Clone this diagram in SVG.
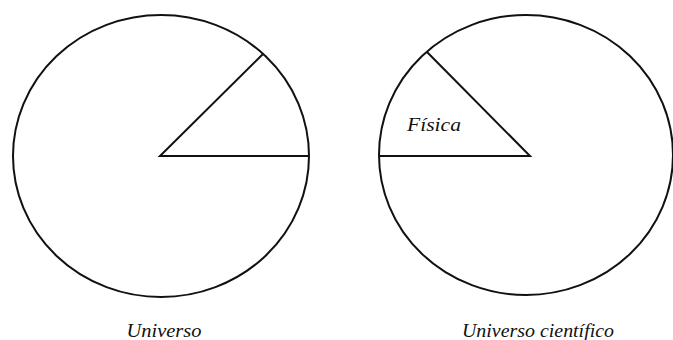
<svg xmlns="http://www.w3.org/2000/svg" width="673" height="340" viewBox="0 0 673 340">
<style>
.ln{fill:none;stroke:#111;stroke-width:2;stroke-linejoin:miter;stroke-linecap:butt}
.lbl{font-family:"Liberation Serif","Times New Roman",serif;font-style:italic;font-size:19.5px;fill:#111}
</style>
<rect width="673" height="340" fill="#fff"/>
<g id="universo">
<ellipse class="ln" cx="161" cy="156" rx="148" ry="141"/>
<polyline class="ln" points="263,54 160,156 308,156"/>
<text class="lbl" x="126.5" y="336.5" textLength="75" lengthAdjust="spacingAndGlyphs">Universo</text>
</g>
<g id="universo-cientifico">
<ellipse class="ln" cx="526" cy="155" rx="147" ry="140"/>
<polyline class="ln" points="427,52 530,156 380,156"/>
<text class="lbl" x="407" y="131" textLength="54" lengthAdjust="spacingAndGlyphs">Física</text>
<text class="lbl" x="462" y="336.5" textLength="152" lengthAdjust="spacingAndGlyphs">Universo científico</text>
</g>
<g id="connectors"></g>
</svg>
